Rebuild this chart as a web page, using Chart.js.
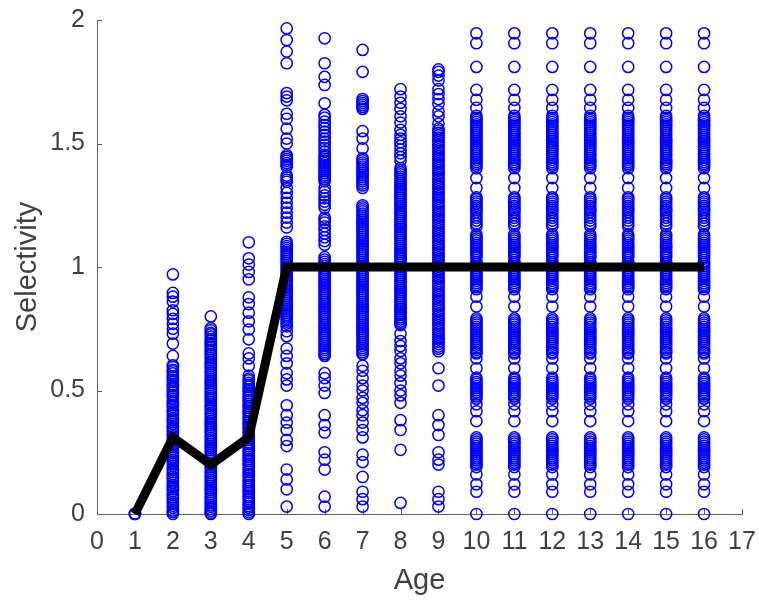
<!DOCTYPE html>
<html>
<head>
<meta charset="utf-8">
<script src="https://cdn.jsdelivr.net/npm/chart.js@4/dist/chart.umd.min.js"></script>
<style>
  html, body { margin: 0; padding: 0; background: #ffffff; }
  #wrap { width: 759px; height: 604px; position: relative; }
</style>
</head>
<body>
<div id="wrap"><canvas id="c" width="759" height="604"></canvas></div>
<script>
// ---- Data ----
const xTickLabels = [0,1,2,3,4,5,6,7,8,9,10,11,12,13,14,15,16,17];
const yTickLabels = [0, 0.5, 1, 1.5, 2];

const ages = [1,2,3,4,5,6,7,8,9,10,11,12,13,14,15,16];

// fitted selectivity curve (black line)
const curveSel = [0, 0.31, 0.2, 0.31, 1, 1, 1, 1, 1, 1, 1, 1, 1, 1, 1, 1];

// bootstrap selectivity estimates (blue circles), one array per age
const selAge1 = [0, 0, 0.002];
const selAge2 = [0.97, 0.895, 0.88, 0.86, 0.825, 0.81, 0.79, 0.77, 0.75, 0.73, 0.69, 0.64,
  0.602, 0.595, 0.584, 0.578, 0.569, 0.558, 0.552, 0.543, 0.535, 0.524, 0.518, 0.509, 0.50, 0.493, 0.482, 0.476, 0.467, 0.456, 0.45, 0.441, 0.433, 0.422, 0.416, 0.407, 0.399, 0.388, 0.382, 0.373, 0.365, 0.354, 0.348, 0.339, 0.331, 0.32, 0.314, 0.305, 0.297, 0.286, 0.28, 0.271, 0.263, 0.252, 0.246, 0.237, 0.229, 0.218, 0.212, 0.203, 0.195, 0.184, 0.178, 0.169, 0.161, 0.15, 0.144, 0.135, 0.127, 0.116, 0.11, 0.101, 0.093, 0.082, 0.076, 0.067, 0.059, 0.048, 0.042, 0.033, 0.025, 0.014, 0.008, 0.0];
const selAge3 = [0.80, 0.752, 0.744, 0.733, 0.727, 0.718, 0.707, 0.701, 0.692,
  0.684, 0.675, 0.666, 0.659, 0.648, 0.642, 0.633, 0.624, 0.614, 0.607, 0.598, 0.59, 0.58, 0.573, 0.564, 0.556, 0.546, 0.539, 0.53, 0.522, 0.512, 0.505, 0.496, 0.488, 0.478, 0.471, 0.462, 0.454, 0.444, 0.437, 0.428, 0.42, 0.41, 0.403, 0.394, 0.386, 0.376, 0.369, 0.36, 0.352, 0.342, 0.335, 0.326, 0.318, 0.308, 0.301, 0.292, 0.284, 0.274, 0.267, 0.258, 0.25, 0.24, 0.233, 0.224, 0.216, 0.206, 0.199, 0.19, 0.182, 0.172, 0.165, 0.156, 0.148, 0.138, 0.131, 0.122, 0.114, 0.104, 0.097, 0.088, 0.08, 0.07, 0.063, 0.054, 0.046, 0.036, 0.029, 0.02, 0.012, 0.004, 0.0];
const selAge4 = [1.10, 1.035, 1.01, 0.98, 0.95, 0.877, 0.85, 0.815, 0.78, 0.747, 0.707, 0.65, 0.63, 0.60, 0.56,
  0.548, 0.541, 0.531, 0.523, 0.515, 0.505, 0.498, 0.489, 0.48, 0.472, 0.462, 0.455, 0.446, 0.437, 0.429, 0.419, 0.412, 0.403, 0.394, 0.386, 0.376, 0.369, 0.36, 0.351, 0.343, 0.333, 0.326, 0.317, 0.308, 0.3, 0.29, 0.283, 0.274, 0.265, 0.257, 0.247, 0.24, 0.231, 0.222, 0.214, 0.204, 0.197, 0.188, 0.179, 0.171, 0.161, 0.154, 0.145, 0.136, 0.128, 0.118, 0.111, 0.102, 0.093, 0.085, 0.075, 0.068, 0.059, 0.05, 0.042, 0.032, 0.025, 0.016, 0.007, 0.0];
const selAge5 = [1.966, 1.919, 1.872, 1.825, 1.704, 1.69, 1.675, 1.62, 1.60, 1.56, 1.52, 1.50,
  1.452, 1.445, 1.437, 1.43, 1.421, 1.413, 1.405, 1.37, 1.362, 1.353, 1.345, 1.32, 1.30, 1.28, 1.26, 1.24, 1.22, 1.20, 1.18, 1.16,
  1.102, 1.094, 1.085, 1.077, 1.068, 1.06, 1.051, 1.043, 1.034, 1.026, 1.017, 1.009, 1.0, 0.992, 0.983, 0.975, 0.966, 0.958, 0.949, 0.941, 0.932, 0.924, 0.915, 0.907, 0.898, 0.89, 0.881, 0.873, 0.864, 0.856, 0.847, 0.839, 0.83, 0.822, 0.813, 0.805, 0.796, 0.788, 0.779, 0.771, 0.76, 0.74, 0.72,
  0.67, 0.64, 0.61, 0.57, 0.545, 0.52, 0.44, 0.40, 0.37, 0.34, 0.30, 0.275, 0.18, 0.14, 0.10, 0.03];
const selAge6 = [1.926, 1.825, 1.77, 1.737, 1.663, 1.616, 1.605, 1.589, 1.575, 1.562, 1.548, 1.535, 1.52, 1.508, 1.495, 1.481, 1.468,
  1.454, 1.446, 1.438, 1.43, 1.421, 1.413, 1.405, 1.396, 1.388, 1.38, 1.371, 1.363, 1.355, 1.347, 1.32, 1.305, 1.29, 1.278, 1.265, 1.252, 1.24,
  1.20, 1.19, 1.18, 1.165, 1.15, 1.135, 1.12, 1.105, 1.09,
  1.04, 1.03, 1.021, 1.012, 1.004, 0.995, 0.987, 0.978, 0.97, 0.961, 0.953, 0.944, 0.936, 0.927, 0.919, 0.91, 0.902, 0.893, 0.885, 0.876, 0.868, 0.859, 0.851, 0.842, 0.834, 0.825, 0.817, 0.808, 0.8, 0.791, 0.783, 0.774, 0.766, 0.757, 0.749, 0.74, 0.732, 0.723, 0.715, 0.706, 0.698, 0.689, 0.681, 0.672, 0.664, 0.655, 0.647, 0.64,
  0.57, 0.55, 0.52, 0.49, 0.40, 0.36, 0.33, 0.25, 0.22, 0.18, 0.07, 0.03];
const selAge7 = [1.879, 1.79, 1.68, 1.672, 1.664, 1.656, 1.648, 1.64, 1.55, 1.52, 1.48,
  1.44, 1.432, 1.423, 1.415, 1.406, 1.398, 1.389, 1.381, 1.372, 1.364, 1.355, 1.347, 1.338, 1.33, 1.32,
  1.25, 1.242, 1.233, 1.225, 1.216, 1.208, 1.199, 1.191, 1.182, 1.174, 1.165, 1.157, 1.148, 1.14, 1.131, 1.123, 1.114, 1.106, 1.097, 1.089, 1.08, 1.072, 1.063, 1.055, 1.046, 1.038, 1.029, 1.021, 1.012, 1.004, 0.995, 0.987, 0.978, 0.97, 0.961, 0.953, 0.944, 0.936, 0.927, 0.919, 0.91, 0.902, 0.893, 0.885, 0.876, 0.868, 0.859, 0.851, 0.842, 0.834, 0.825, 0.817, 0.808, 0.8, 0.791, 0.783, 0.774, 0.766, 0.757, 0.749, 0.74, 0.732, 0.723, 0.715, 0.706, 0.698, 0.689, 0.681, 0.672, 0.664, 0.655, 0.647,
  0.60, 0.58, 0.55, 0.52, 0.50, 0.47, 0.45, 0.42, 0.40, 0.37, 0.34, 0.31, 0.24, 0.21, 0.15, 0.09, 0.06, 0.03];
const selAge8 = [1.72, 1.69, 1.665, 1.64, 1.61, 1.585, 1.555, 1.535, 1.52, 1.505, 1.49, 1.475, 1.46, 1.445, 1.43,
  1.40, 1.392, 1.383, 1.375, 1.366, 1.358, 1.349, 1.341, 1.332, 1.324, 1.315, 1.307, 1.298, 1.29, 1.281, 1.273, 1.264, 1.256, 1.247, 1.239, 1.23, 1.222, 1.213, 1.205, 1.196, 1.188, 1.179, 1.171, 1.162, 1.154, 1.145, 1.137, 1.128, 1.12, 1.111, 1.103, 1.094, 1.086, 1.077, 1.069, 1.06, 1.052, 1.043, 1.035, 1.026, 1.018, 1.009, 1.0, 0.992, 0.983, 0.975, 0.966, 0.958, 0.949, 0.941, 0.932, 0.924, 0.915, 0.907, 0.898, 0.89, 0.881, 0.873, 0.864, 0.856, 0.847, 0.839, 0.83, 0.822, 0.813, 0.805, 0.796, 0.788, 0.779, 0.771, 0.765,
  0.73, 0.70, 0.68, 0.66, 0.63, 0.61, 0.58, 0.56, 0.53, 0.50, 0.48, 0.45, 0.38, 0.34, 0.26, 0.045];
const selAge9 = [1.80, 1.79, 1.775, 1.755, 1.72, 1.70, 1.68, 1.66, 1.63, 1.61, 1.58, 1.56,
  1.552, 1.543, 1.533, 1.524, 1.514, 1.505, 1.495, 1.486, 1.476, 1.467, 1.457, 1.448, 1.438, 1.429, 1.419, 1.41, 1.40, 1.391, 1.381, 1.372, 1.362, 1.353, 1.343, 1.334, 1.324, 1.315, 1.305, 1.296, 1.286, 1.277, 1.267, 1.258, 1.248, 1.239, 1.229, 1.22, 1.21, 1.201, 1.191, 1.182, 1.172, 1.163, 1.153, 1.144, 1.134, 1.125, 1.115, 1.106, 1.096, 1.087, 1.077, 1.068, 1.058, 1.049, 1.039, 1.03, 1.02, 1.011, 1.001, 0.992, 0.982, 0.973, 0.963, 0.954, 0.944, 0.935, 0.925, 0.916, 0.906, 0.897, 0.887, 0.878, 0.868, 0.859, 0.849, 0.84, 0.83, 0.821, 0.811, 0.802, 0.792, 0.783, 0.773, 0.764, 0.754, 0.745, 0.735, 0.726, 0.716, 0.707, 0.697, 0.688, 0.678, 0.669, 0.659,
  0.59, 0.52, 0.40, 0.36, 0.32, 0.25, 0.22, 0.20, 0.09, 0.06, 0.03];
// ages 10-16 show the same column of estimates
const selAge10to16 = [1.946, 1.906, 1.81, 1.717, 1.677, 1.644,
  1.612, 1.604, 1.595, 1.587, 1.578, 1.57, 1.561, 1.553, 1.544, 1.536, 1.527, 1.519, 1.51, 1.502, 1.493, 1.485, 1.476, 1.468, 1.459, 1.451, 1.442, 1.434, 1.425, 1.417, 1.41,
  1.40, 1.36, 1.32,
  1.282, 1.274, 1.265, 1.257, 1.248, 1.24, 1.231, 1.223,
  1.21, 1.199, 1.188, 1.176, 1.165,
  1.132, 1.124, 1.115, 1.107, 1.098, 1.09, 1.081, 1.073, 1.064, 1.056, 1.047, 1.039,
  1.02, 1.012, 1.003, 0.995, 0.986, 0.978, 0.969, 0.961, 0.952, 0.944, 0.935, 0.927, 0.918, 0.91,
  0.88, 0.84,
  0.792, 0.784, 0.775, 0.767, 0.758, 0.75, 0.741, 0.733, 0.724, 0.716, 0.707, 0.699, 0.69, 0.682, 0.673, 0.665, 0.656, 0.65,
  0.63, 0.59,
  0.552, 0.544, 0.535, 0.527, 0.518, 0.51, 0.501, 0.493, 0.484, 0.476, 0.467,
  0.444, 0.416, 0.376,
  0.31, 0.302, 0.293, 0.285, 0.276, 0.268, 0.259, 0.251, 0.242, 0.234, 0.225, 0.217, 0.208, 0.2, 0.19,
  0.16, 0.12, 0.09, 0.0];

const selByAge = [selAge1, selAge2, selAge3, selAge4, selAge5, selAge6, selAge7, selAge8, selAge9,
  selAge10to16, selAge10to16, selAge10to16, selAge10to16, selAge10to16, selAge10to16, selAge10to16];

// ---- Build datasets ----
const scatterPts = [];
ages.forEach((a, i) => selByAge[i].forEach(v => scatterPts.push({ x: a, y: v })));
const linePts = ages.map((a, i) => ({ x: a, y: curveSel[i] }));

const AXIS = '#606060';
const TXT = '#404040';
const FONT = "'Liberation Sans', Arial, Helvetica, sans-serif";

const inwardTicks = {
  id: 'inwardTicks',
  beforeDatasetsDraw(chart) {
    const { ctx, chartArea, scales } = chart;
    ctx.save();
    ctx.strokeStyle = AXIS;
    ctx.lineWidth = 1;
    ctx.beginPath();
    xTickLabels.forEach(v => {
      const px = Math.round(scales.x.getPixelForValue(v)) + 0.5;
      ctx.moveTo(px, chartArea.bottom);
      ctx.lineTo(px, chartArea.bottom - 5);
    });
    yTickLabels.forEach(v => {
      const py = Math.round(scales.y.getPixelForValue(v)) + 0.5;
      ctx.moveTo(chartArea.left, py);
      ctx.lineTo(chartArea.left + 5, py);
    });
    ctx.stroke();
    ctx.restore();
  }
};

new Chart(document.getElementById('c'), {
  data: {
    datasets: [
      {
        type: 'line',
        data: linePts,
        borderColor: '#000000',
        borderWidth: 9,
        pointRadius: 0,
        borderJoinStyle: 'miter',
        borderCapStyle: 'butt',
        tension: 0,
        fill: false,
        clip: false,
        order: 0
      },
      {
        type: 'scatter',
        data: scatterPts,
        pointStyle: 'circle',
        pointRadius: 5.6,
        pointBorderWidth: 1.5,
        borderColor: '#0000ff',
        backgroundColor: 'rgba(0,0,0,0)',
        pointBackgroundColor: 'rgba(0,0,0,0)',
        pointBorderColor: '#0000ff',
        clip: false,
        order: 1
      }
    ]
  },
  options: {
    responsive: false,
    animation: false,
    devicePixelRatio: 1,
    layout: { padding: { left: 0, right: 17, top: 20, bottom: 0 } },
    plugins: { legend: { display: false }, tooltip: { enabled: false } },
    scales: {
      x: {
        type: 'linear',
        min: 0, max: 17,
        afterFit(scale) { scale.height = 90; scale.paddingLeft = 0; scale.paddingRight = 0; },
        afterBuildTicks(scale) { scale.ticks = xTickLabels.map(v => ({ value: v })); },
        ticks: {
          autoSkip: false,
          maxRotation: 0,
          padding: 13,
          color: TXT,
          font: { family: FONT, size: 25 },
          callback: v => String(v)
        },
        grid: { display: true, drawOnChartArea: false, drawTicks: false },
        border: { display: true, color: AXIS, width: 1 },
        title: {
          display: true, text: 'Age', color: TXT,
          font: { family: FONT, size: 29 },
          padding: { top: 0, bottom: 6 }
        }
      },
      y: {
        type: 'linear',
        min: 0, max: 2,
        afterFit(scale) { scale.width = 97; scale.paddingTop = 0; scale.paddingBottom = 0; },
        afterBuildTicks(scale) { scale.ticks = yTickLabels.map(v => ({ value: v })); },
        ticks: {
          padding: 12,
          color: TXT,
          font: { family: FONT, size: 25 },
          callback: v => String(v)
        },
        grid: { display: true, drawOnChartArea: false, drawTicks: false },
        border: { display: true, color: AXIS, width: 1 },
        title: {
          display: true, text: 'Selectivity', color: TXT,
          font: { family: FONT, size: 29 },
          padding: { top: 11, bottom: 0 }
        }
      }
    }
  },
  plugins: [inwardTicks]
});
</script>
</body>
</html>
